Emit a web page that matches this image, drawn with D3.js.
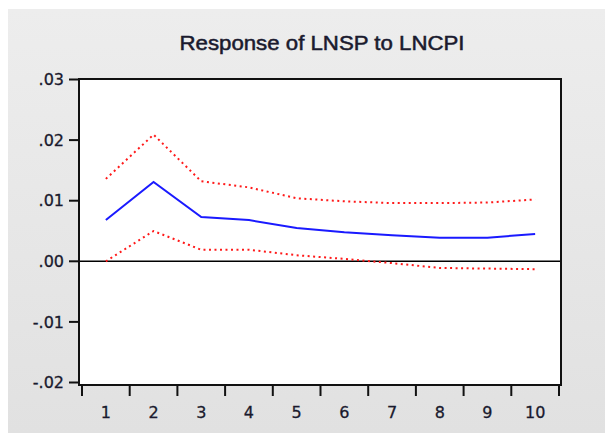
<!DOCTYPE html>
<html><head><meta charset="utf-8">
<script src="https://cdn.jsdelivr.net/npm/d3@7"></script>
<style>html,body{margin:0;padding:0;background:#fff;}svg{display:block;}</style>
</head><body>
<script>
const periods = [1,2,3,4,5,6,7,8,9,10];
const response = [0.0068,0.0131,0.0073,0.0068,0.0055,0.0048,0.0043,0.0039,0.0039,0.0045];
const upperBand = [0.0136,0.0209,0.0132,0.0122,0.0104,0.0099,0.0096,0.0096,0.0097,0.0102];
const lowerBand = [0.0000,0.0050,0.0019,0.0019,0.0010,0.0004,-0.0003,-0.0011,-0.0012,-0.0013];
const yTicks = [0.03,0.02,0.01,0.00,-0.01,-0.02];
const yTickLabels = [".03",".02",".01",".00","-.01","-.02"];
const title = "Response of LNSP to LNCPI";

const W=605,H=433;
const svg=d3.select("body").append("svg").attr("width",W).attr("height",H);
const defs=svg.append("defs");
const g=defs.append("linearGradient").attr("id","bg").attr("x1",0).attr("y1",0).attr("x2",0).attr("y2",1);
g.append("stop").attr("offset","0%").attr("stop-color","#ededed");
g.append("stop").attr("offset","100%").attr("stop-color","#e1e1e1");
svg.append("rect").attr("x",8).attr("y",9).attr("width",W-8).attr("height",H-9).attr("fill","url(#bg)");

const box={l:79,r:561,t:79,b:385};
const x=d3.scaleBand().domain(periods).range([82,559]).padding(0);
const y=d3.scaleLinear().domain([-0.02,0.03]).range([382.5,79.5]);
const cx=d=>x(d)+x.bandwidth()/2;

svg.append("rect").attr("x",box.l).attr("y",box.t).attr("width",box.r-box.l).attr("height",box.b-box.t).attr("fill","#fff");

svg.append("text").attr("x",322).attr("y",50).attr("text-anchor","middle")
  .attr("font-family","Liberation Sans, Arial, sans-serif").attr("font-size",20)
  .attr("textLength",285).attr("lengthAdjust","spacingAndGlyphs")
  .attr("fill","#1a1a2e").attr("stroke","#1a1a2e").attr("stroke-width",0.5).text(title);

// zero line
svg.append("line").attr("x1",box.l).attr("x2",box.r).attr("y1",y(0)).attr("y2",y(0))
  .attr("stroke","#000").attr("stroke-width",1.5);

const line=d3.line().x((d,i)=>cx(periods[i])).y(d=>y(d));
svg.append("path").datum(upperBand).attr("d",line).attr("fill","none")
  .attr("stroke","#ff1a1a").attr("stroke-width",2).attr("stroke-dasharray","2,3.5");
svg.append("path").datum(lowerBand).attr("d",line).attr("fill","none")
  .attr("stroke","#ff1a1a").attr("stroke-width",2).attr("stroke-dasharray","2,3.5");
svg.append("path").datum(response).attr("d",line).attr("fill","none")
  .attr("stroke","#1a1aff").attr("stroke-width",2);

// frame
svg.append("rect").attr("x",box.l).attr("y",box.t).attr("width",box.r-box.l).attr("height",box.b-box.t)
  .attr("fill","none").attr("stroke","#111").attr("stroke-width",2);

const tf="DejaVu Sans, Verdana, sans-serif";
// y ticks
const yg=svg.append("g");
yTicks.forEach((v,i)=>{
  yg.append("line").attr("x1",69).attr("x2",box.l).attr("y1",y(v)).attr("y2",y(v)).attr("stroke","#111").attr("stroke-width",2);
  yg.append("text").attr("x",64).attr("y",y(v)).attr("dy","0.36em").attr("text-anchor","end")
    .attr("font-family",tf).attr("font-size",16).attr("fill","#1a1a2e")
    .attr("stroke","#1a1a2e").attr("stroke-width",0.3)
    .text(yTickLabels[i]);
});
// x ticks at band boundaries
const xg=svg.append("g");
const bounds=periods.map(p=>x(p)).concat([x(periods[periods.length-1])+x.bandwidth()]);
bounds.forEach(b=>{
  xg.append("line").attr("x1",b).attr("x2",b).attr("y1",box.b).attr("y2",396).attr("stroke","#111").attr("stroke-width",2);
});
periods.forEach(p=>{
  xg.append("text").attr("x",cx(p)).attr("y",418).attr("text-anchor","middle")
    .attr("font-family",tf).attr("font-size",16).attr("fill","#1a1a2e")
    .attr("stroke","#1a1a2e").attr("stroke-width",0.3)
    .text(p);
});
</script>
</body></html>
